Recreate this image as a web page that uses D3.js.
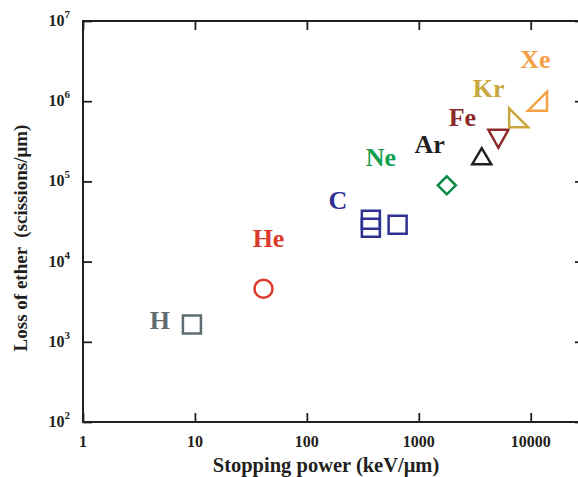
<!DOCTYPE html>
<html>
<head>
<meta charset="utf-8">
<script src="https://cdn.jsdelivr.net/npm/d3@7"></script>
<style>
  body { margin: 0; background: #fff; }
  svg { display: block; font-family: "Liberation Serif", "Times New Roman", serif; font-weight: bold; }
</style>
</head>
<body>
<div id="chart"></div>
<script>
// ions, stopping power (keV/um) and loss of ether (scissions/um)
const ions = ['H', 'He', 'C', 'C', 'C', 'Ne', 'Ar', 'Fe', 'Kr', 'Xe']
const stoppingPower = [9.4, 41, 373, 373, 647, 1780, 3650, 5140, 7800, 11500]
const etherLoss = [1640, 4600, 33200, 26400, 28800, 89400, 206000, 350000, 620000, 1000000]
const markers = ['square', 'circle', 'square', 'square', 'square', 'diamond', 'triUp', 'triDown', 'triKr', 'triXe']

const xTicks = [1, 10, 100, 1000, 10000]
const yTicks = [100, 1000, 10000, 100000, 1000000, 10000000]
const yTickExp = ['2', '3', '4', '5', '6', '7']

const labels = ['H', 'He', 'C', 'Ne', 'Ar', 'Fe', 'Kr', 'Xe']
// label anchor offsets (px) from the first point of that ion
const labelOffsets = [[-32, 4], [5, -42], [-33, -11], [-66, -19], [-52, -3], [-36, -12], [-30, -21], [-2, -33]]

const colors = {
  H: '#5f6b70', He: '#dc3b2c', C: '#2e3192', Ne: '#0b8a45',
  Ar: '#231f20', Fe: '#8c2a28', Kr: '#c8a83a', Xe: '#f5a045'
}
const labelColors = Object.assign({}, colors, { Ne: '#12a04f' })

const width = 578, height = 477
const margin = { top: 21, right: -6, bottom: 55, left: 83 }
const w = width - margin.left - margin.right
const h = height - margin.top - margin.bottom

const svg = d3.select('#chart').append('svg')
  .attr('width', width)
  .attr('height', height)

const g = svg.append('g')
  .attr('transform', `translate(${margin.left},${margin.top})`)

const x = d3.scaleLog().domain([1, Math.pow(10, 4.476)]).range([0, w])
const y = d3.scaleLog().domain([100, 1e7]).range([h, 0])

const axisColor = '#231f20'

// frame
g.append('rect')
  .attr('width', w)
  .attr('height', h)
  .attr('fill', 'none')
  .attr('stroke', axisColor)
  .attr('stroke-width', 2)

const tickLen = 9
const drawAxis = (axis, transform) => {
  const a = g.append('g').attr('transform', transform).call(axis)
  a.select('.domain').remove()
  a.selectAll('line').attr('stroke', axisColor).attr('stroke-width', 1.8)
  a.selectAll('text').remove()
}
drawAxis(d3.axisBottom(x).tickValues(xTicks).tickSize(-tickLen), `translate(0,${h})`)
drawAxis(d3.axisTop(x).tickValues(xTicks).tickSize(-tickLen), 'translate(0,0)')
drawAxis(d3.axisLeft(y).tickValues(yTicks).tickSize(-tickLen), 'translate(0,0)')
drawAxis(d3.axisRight(y).tickValues(yTicks).tickSize(-tickLen), `translate(${w},0)`)

// x tick labels
g.selectAll('.xlab')
  .data(xTicks)
  .enter()
  .append('text')
  .attr('x', d => x(d))
  .attr('y', h + 25)
  .attr('text-anchor', 'middle')
  .attr('font-size', 16)
  .attr('fill', axisColor)
  .text(d => d)

// y tick labels with superscripts
const ylab = g.selectAll('.ylab')
  .data(yTicks)
  .enter()
  .append('text')
  .attr('x', -13)
  .attr('y', d => y(d) + 5)
  .attr('text-anchor', 'end')
  .attr('font-size', 16)
  .attr('fill', axisColor)
ylab.append('tspan').text('10')
ylab.append('tspan')
  .attr('font-size', 11)
  .attr('dy', -8)
  .text((d, i) => yTickExp[i])

// axis titles
svg.append('text')
  .attr('x', 326)
  .attr('y', 472)
  .attr('text-anchor', 'middle')
  .attr('font-size', 20.5)
  .attr('fill', axisColor)
  .text('Stopping power (keV/\u03bcm)')

svg.append('text')
  .attr('transform', 'translate(27,238) rotate(-90)')
  .attr('text-anchor', 'middle')
  .attr('font-size', 19)
  .attr('fill', axisColor)
  .attr('xml:space', 'preserve')
  .text('Loss of ether  (scissions/\u03bcm)')

// markers
const shapePath = {
  square: 'M-9,-9H9V9H-9Z',
  diamond: 'M0,-9L9,0L0,9L-9,0Z',
  triUp: 'M0,-8L9.5,8H-9.5Z',
  triDown: 'M-10,-8H10L0,10Z',
  triKr: 'M-9.5,-9.5V9.5H9.5Z',
  triXe: 'M9.5,-9.5V9.5H-9.5Z'
}

const pts = ions.map((ion, i) => ({ ion, sp: stoppingPower[i], loss: etherLoss[i], marker: markers[i] }))

g.selectAll('.pt')
  .data(pts)
  .enter()
  .append(d => document.createElementNS('http://www.w3.org/2000/svg', d.marker === 'circle' ? 'circle' : 'path'))
  .attr('transform', d => `translate(${x(d.sp)},${y(d.loss)})`)
  .attr('r', d => d.marker === 'circle' ? 9 : null)
  .attr('d', d => d.marker === 'circle' ? null : shapePath[d.marker])
  .attr('fill', 'none')
  .attr('stroke', d => colors[d.ion])
  .attr('stroke-width', 2.5)

// element labels
g.selectAll('.lab')
  .data(labels)
  .enter()
  .append('text')
  .attr('x', (d, i) => {
    const p = pts.find(q => q.ion === d)
    return x(p.sp) + labelOffsets[i][0]
  })
  .attr('y', (d, i) => {
    const p = pts.find(q => q.ion === d)
    return y(p.loss) + labelOffsets[i][1]
  })
  .attr('text-anchor', 'middle')
  .attr('font-size', 26)
  .attr('fill', d => labelColors[d])
  .text(d => d)
</script>
</body>
</html>
